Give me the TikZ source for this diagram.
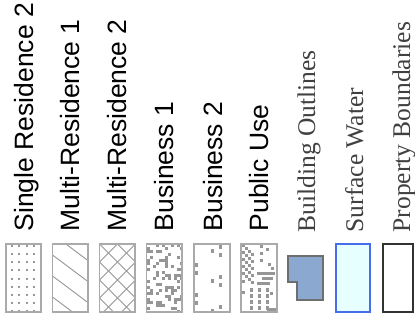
\documentclass[tikz,border=0pt]{standalone}
\usepackage{fontspec}
\setmainfont{Liberation Serif}
\setsansfont{Liberation Sans}
\definecolor{swatchgray}{RGB}{170,170,170}
\definecolor{dotgray}{RGB}{150,150,150}
\definecolor{buildfill}{RGB}{138,168,208}
\definecolor{buildline}{RGB}{110,110,110}
\definecolor{waterfill}{RGB}{230,255,255}
\definecolor{waterline}{RGB}{70,110,235}
\definecolor{parcelline}{RGB}{50,50,50}
\tikzset{
  legendtext/.style={rotate=90, anchor=base west, inner sep=0pt},
  zonetext/.style={legendtext, font=\sffamily\fontsize{26.5}{30}\selectfont},
  layertext/.style={legendtext, font=\rmfamily\fontsize{25.5}{30}\selectfont, text=black!75},
  swatch/.style={draw=swatchgray, line width=1.4pt},
  hatch/.style={draw=dotgray, line width=0.9pt},
}
\begin{document}
\begin{tikzpicture}[x=1pt,y=-1pt]
    \useasboundingbox (0,0) rectangle (415,324);
    % zone labels
    \foreach \t/\x [count=\i] in
    {Single Residence 2/33.5,Multi-Residence 1/79,Multi-Residence 2/126,Business 1/173,Business 2/222,Public Use/268}{
        \node[zonetext] (zone\i) at (\x,231.5) {\t};
    }
    % layer labels
    \foreach \t/\x [count=\i] in
    {Building Outlines/315,Surface Water/363,Property Boundaries/410}{
        \node[layertext] (layer\i) at (\x,232.5) {\t};
    }

    % single residence 2: dots
    \foreach \cx in {12,19.3,26.7,34}{
        \foreach \k in {0,...,8}{
            \fill[dotgray] (\cx-1,245+8.15*\k) rectangle ++(2,2);
        }
    }
    \draw[swatch] (6,244) rectangle (41,312);

    % multi-residence 1: hatch
    \begin{scope}
        \clip (52.5,244) rectangle (88,312);
        \foreach \y in {213,234,...,318}{
            \draw[hatch] (52.5,\y) -- (88,\y+26.6);
        }
    \end{scope}
    \draw[swatch] (52.5,244) rectangle (88,312);

    % multi-residence 2: cross hatch
    \begin{scope}
        \clip (99.5,244) rectangle (135,312);
        \foreach \y in {190,208,...,334}{
            \draw[hatch] (99.5,\y) -- (135,\y+35.5);
            \draw[hatch] (99.5,\y) -- (135,\y-35.5);
        }
    \end{scope}
    \draw[swatch] (99.5,244) rectangle (135,312);

    % business 1: random blocks
    \pgfmathsetseed{17}
    \begin{scope}
        \clip (146.5,244) rectangle (182,312);
        \foreach \i in {0,...,11}{
            \foreach \j in {0,...,22}{
                \pgfmathrandominteger{\r}{0}{99}
                \ifnum\r<36
                    \fill[dotgray] (146.5+3*\i,244+3*\j) rectangle ++(3,3);
                \fi
            }
        }
    \end{scope}
    \draw[swatch] (146.5,244) rectangle (182,312);

    % business 2: sparse blocks
    \begin{scope}
        \clip (194,244) rectangle (230,312);
        \foreach \k in {0,1,2}{
            \foreach \x/\y in {211/249,219/245,219/253,195/263,195/271}{
                \fill[dotgray] (\x,\y+30*\k) rectangle ++(3,4);
            }
        }
    \end{scope}
    \draw[swatch] (194,244) rectangle (230,312);

    % public use
    \begin{scope}
        \clip (241,244) rectangle (277,312);
        \foreach \s in {0,7,14,21,28}{
            \foreach \k in {0,...,3}{
                \fill[dotgray] (242+3*\k,244+\s+3*\k) rectangle ++(3,3);
            }
        }
        \foreach \x/\y in {260/245,260/252,266/248,260/259,268/263,271/267,242/280,242/291,270/292}{
            \fill[dotgray] (\x,\y) rectangle ++(3,3);
        }
        \fill[dotgray] (257,272) rectangle (275,274.5);
        \fill[dotgray] (262,277) rectangle (273,279.5);
        \fill[dotgray] (257,282) rectangle (270,284.5);
        \foreach \x in {250,258,266}{
            \foreach \y in {288,294,300,306}{
                \fill[dotgray] (\x,\y) rectangle ++(3,4);
            }
        }
        \fill[dotgray] (267,308) rectangle (276,311);
    \end{scope}
    \draw[swatch] (241,244) rectangle (277,312);

    % building outlines
    \draw[buildline, fill=buildfill, line width=1.1pt]
        (288,256) -- (323,256) -- (323,300) -- (297,300) -- (297,282) -- (288,282) -- cycle;
    % surface water
    \draw[waterline, fill=waterfill, line width=1.4pt] (336,244) rectangle (370,312);
    % property boundaries
    \draw[parcelline, line width=1.4pt] (383,244) rectangle (413,312);
\end{tikzpicture}
\end{document}
